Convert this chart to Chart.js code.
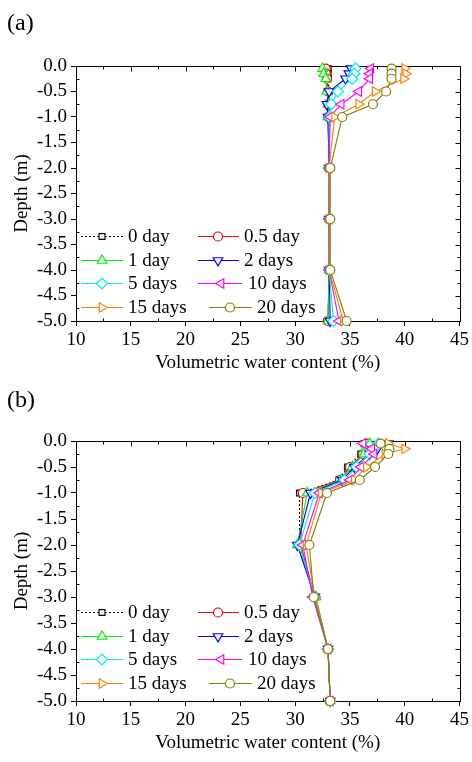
<!DOCTYPE html>
<html><head><meta charset="utf-8">
<script src="https://cdn.jsdelivr.net/npm/chart.js@4.4.0/dist/chart.umd.min.js"></script>
<style>
html,body{margin:0;padding:0;background:#fff;}
body{width:472px;height:762px;position:relative;overflow:hidden;font-family:"Liberation Serif",serif;}
.wrap{position:absolute;left:0;width:472px;}
.lab{position:absolute;left:7px;font-size:24px;line-height:28px;color:#000;font-family:"Liberation Serif",serif;}
</style></head><body>
<div class="wrap" style="top:0;height:390px"><canvas id="ca"></canvas></div>
<div class="wrap" style="top:380px;height:382px"><canvas id="cb"></canvas></div>
<div class="lab" style="top:8px">(a)</div>
<div class="lab" style="top:385px">(b)</div>
<script>
// ---- data ----
const depths = [-0.05, -0.15, -0.25, -0.5, -0.75, -1, -2, -3, -4, -5];
const seriesLabels = ['0 day', '0.5 day', '1 day', '2 days', '5 days', '10 days', '15 days', '20 days'];
const xTicks = [10, 15, 20, 25, 30, 35, 40, 45];
const yTicks = [0.0, -0.5, -1.0, -1.5, -2.0, -2.5, -3.0, -3.5, -4.0, -4.5, -5.0];

// panel (a)
const a_0day   = [33.0, 33.0, 33.0, 33.1, 33.1, 33.1, 33.1, 33.1, 33.1, 33.0];
const a_05day  = [32.8, 32.8, 32.9, 33.0, 33.0, 33.0, 33.1, 33.1, 33.1, 33.0];
const a_1day   = [32.5, 32.6, 32.8, 32.9, 33.0, 33.0, 33.1, 33.1, 33.1, 33.0];
const a_2days  = [35.1, 34.9, 34.6, 33.1, 32.9, 33.0, 33.1, 33.1, 33.1, 33.2];
const a_5days  = [35.5, 35.4, 35.2, 33.9, 33.3, 33.1, 33.1, 33.1, 33.1, 33.5];
const a_10days = [36.9, 36.8, 36.8, 35.8, 34.2, 33.2, 33.1, 33.1, 33.1, 34.0];
const a_15days = [40.0, 40.1, 39.9, 37.3, 35.8, 33.6, 33.1, 33.1, 33.1, 34.4];
const a_20days = [38.8, 38.8, 38.8, 38.3, 37.1, 34.3, 33.2, 33.2, 33.2, 34.7];

// panel (b)
const b_0day   = [36.3, 36.5, 36.0, 34.8, 34.0, 30.4, 30.4, 31.8, 33.0, 33.2];
const b_05day  = [36.5, 36.7, 36.2, 35.0, 34.1, 30.7, 30.5, 31.8, 33.0, 33.2];
const b_1day   = [36.8, 36.4, 36.3, 35.2, 34.2, 31.1, 30.2, 31.9, 33.0, 33.2];
const b_2days  = [38.5, 37.5, 36.8, 35.4, 34.3, 31.4, 30.2, 31.8, 33.0, 33.2];
const b_5days  = [37.6, 37.2, 36.8, 35.6, 34.5, 31.8, 30.4, 31.8, 33.0, 33.2];
const b_10days = [36.2, 37.0, 37.2, 36.0, 35.0, 32.2, 30.7, 31.6, 33.0, 33.2];
const b_15days = [38.5, 40.0, 38.2, 36.5, 35.4, 32.4, 31.0, 31.8, 33.0, 33.2];
const b_20days = [37.8, 38.6, 38.5, 37.3, 35.9, 32.9, 31.3, 31.7, 33.0, 33.2];

// ---- styles ----
const colors = ['#000000', '#ff0000', '#00ee00', '#0000ff', '#00e8ff', '#ff00ff', '#ff8000', '#808000'];
const pStyles = ['rect', 'circle', 'triangle', 'triangle', 'rectRot', 'triangle', 'triangle', 'circle'];
const pRot = [0, 0, 0, 180, 0, 270, 90, 0];
const pRad = [4.2, 4.5, 5.5, 5.5, 5.5, 5.5, 5.5, 4.5];
const FONT = '"Liberation Serif", "Times New Roman", serif';

// legend item placement (x of line start, line end, marker, text)
const legendPos = [
  [81, 123, 102, 128], [198, 239, 218, 244],
  [81, 123, 102, 128], [198, 239, 218, 244],
  [81, 123, 102, 128], [198, 242, 221, 248],
  [81, 123, 102, 128], [209, 252, 230, 257]
];

function makeDatasets(list) {
  return list.map((vals, i) => ({
    label: seriesLabels[i],
    data: vals.map((v, k) => ({x: v, y: depths[k]})),
    showLine: true,
    borderColor: colors[i],
    borderWidth: 1.1,
    borderDash: i === 0 ? [2, 2] : [],
    pointStyle: pStyles[i],
    rotation: pRot[i],
    pointRadius: pRad[i],
    pointBorderWidth: 1.2,
    pointBorderColor: colors[i],
    pointBackgroundColor: '#ffffff',
    pointHoverRadius: pRad[i],
    tension: 0,
    clip: false,
    order: 8 - i
  }));
}

const framePlugin = {
  id: 'frame',
  beforeDatasetsDraw(chart) {
    const {ctx, chartArea: ca, scales: {x, y}} = chart;
    const L = Math.round(ca.left) + 0.5, R = Math.round(ca.right) + 0.5;
    const T = Math.round(ca.top) + 0.5, B = Math.round(ca.bottom) + 0.5;
    ctx.save();
    ctx.strokeStyle = '#000';
    ctx.lineWidth = 1;
    ctx.beginPath();
    ctx.rect(L, T, R - L, B - T);
    for (let i = 0; i < xTicks.length; i++) {
      const px = Math.round(x.getPixelForValue(xTicks[i])) + 0.5;
      ctx.moveTo(px, T); ctx.lineTo(px, T + 5);
      if (i < xTicks.length - 1) {
        const mx = Math.round(x.getPixelForValue((xTicks[i] + xTicks[i + 1]) / 2)) + 0.5;
        ctx.moveTo(mx, T); ctx.lineTo(mx, T + 3);
        ctx.moveTo(mx, B); ctx.lineTo(mx, B - 3);
      }
    }
    for (let i = 0; i < yTicks.length; i++) {
      const py = Math.round(y.getPixelForValue(yTicks[i])) + 0.5;
      ctx.moveTo(R, py); ctx.lineTo(R - 5, py);
      if (i < yTicks.length - 1) {
        const my = Math.round(y.getPixelForValue((yTicks[i] + yTicks[i + 1]) / 2)) + 0.5;
        ctx.moveTo(L, my); ctx.lineTo(L + 3, my);
        ctx.moveTo(R, my); ctx.lineTo(R - 3, my);
      }
    }
    ctx.stroke();
    ctx.restore();
  },
  afterDatasetsDraw(chart) {
    const {ctx, chartArea: ca} = chart;
    const opts = chart.options.plugins.frame;
    ctx.save();
    ctx.font = '19px ' + FONT;
    ctx.textBaseline = 'middle';
    ctx.textAlign = 'left';
    chart.data.datasets.forEach((ds, i) => {
      const row = Math.floor(i / 2);
      const yy = ca.top + opts.row0 + row * opts.rowStep;
      const p = legendPos[i];
      ctx.strokeStyle = ds.borderColor;
      ctx.lineWidth = 1.1;
      ctx.setLineDash(ds.borderDash || []);
      ctx.beginPath();
      ctx.moveTo(p[0], Math.round(yy) + 0.5);
      ctx.lineTo(p[1], Math.round(yy) + 0.5);
      ctx.stroke();
      ctx.setLineDash([]);
      ctx.fillStyle = '#ffffff';
      ctx.strokeStyle = ds.borderColor;
      ctx.lineWidth = 1.2;
      Chart.helpers.drawPoint(ctx, {pointStyle: ds.pointStyle, rotation: ds.rotation, radius: ds.pointRadius, borderWidth: 1.2}, p[2], Math.round(yy) + 0.5);
      ctx.fillStyle = '#000';
      ctx.fillText(ds.label, p[3], yy + 1);
    });
    ctx.restore();
  }
};

function makeChart(id, list, pad) {
  return new Chart(document.getElementById(id), {
    type: 'scatter',
    data: {datasets: makeDatasets(list)},
    options: {
      responsive: true,
      maintainAspectRatio: false,
      animation: false,
      events: [],
      layout: {padding: {left: 6, right: 11, top: pad.top, bottom: pad.bottom}},
      plugins: {
        legend: {display: false},
        tooltip: {enabled: false},
        frame: {row0: pad.row0, rowStep: pad.rowStep}
      },
      scales: {
        x: {
          type: 'linear', min: 10, max: 45,
          afterBuildTicks: s => { s.ticks = xTicks.map(v => ({value: v})); },
          afterFit: s => { s.height = 53; },
          ticks: {color: '#000', font: {family: FONT, size: 19}, padding: 3, maxRotation: 0, autoSkip: false},
          grid: {display: true, drawOnChartArea: false, drawTicks: true, tickLength: 5, color: '#000', lineWidth: 1},
          border: {display: true, color: '#000', width: 1},
          title: {display: true, text: 'Volumetric water content (%)', color: '#000', font: {family: FONT, size: 19}, padding: 0}
        },
        y: {
          type: 'linear', min: -5, max: 0,
          afterBuildTicks: s => { s.ticks = yTicks.map(v => ({value: v})); },
          afterFit: s => { s.width = 70; },
          ticks: {color: '#000', font: {family: FONT, size: 19}, padding: 4, autoSkip: false,
                  callback: v => Number(v).toFixed(1)},
          grid: {display: true, drawOnChartArea: false, drawTicks: true, tickLength: 5, color: '#000', lineWidth: 1},
          border: {display: true, color: '#000', width: 1},
          title: {display: true, text: 'Depth (m)', color: '#000', font: {family: FONT, size: 19}, padding: {top: 5, bottom: 0}}
        }
      }
    },
    plugins: [framePlugin]
  });
}

makeChart('ca', [a_0day, a_05day, a_1day, a_2days, a_5days, a_10days, a_15days, a_20days],
  {top: 66, bottom: 16, row0: 170, rowStep: 23.7});
makeChart('cb', [b_0day, b_05day, b_1day, b_2days, b_5days, b_10days, b_15days, b_20days],
  {top: 61, bottom: 8, row0: 171, rowStep: 23.7});
</script>
</body></html>
